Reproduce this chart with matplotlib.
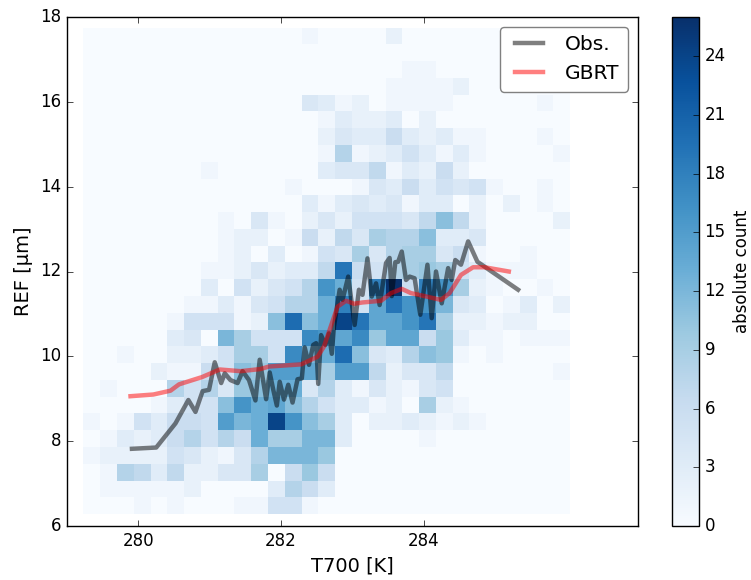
import numpy as np
import matplotlib
matplotlib.use('Agg')
import matplotlib.pyplot as plt

plt.style.use('classic')
plt.rcParams['font.family'] = ['DejaVu Sans']

# bin edges of the 2d histogram
t_min, t_max = 279.23, 286.05
ref_min, ref_max = 6.28, 17.75
n_bins = 29

# counts, first row is the top of the plot (highest REF)
row00 = [0,0,0,0,0,0,0,0,0,0,0,0,0,1,0,0,0,0,2,0,0,0,0,0,0,0,0,0,0]
row01 = [0,0,0,0,0,0,0,0,0,0,0,0,0,0,0,0,0,0,0,0,0,0,0,0,0,0,0,0,0]
row02 = [0,0,0,0,0,0,0,0,0,0,0,0,0,0,0,0,0,0,0,1,1,0,0,0,0,0,0,0,0]
row03 = [0,0,0,0,0,0,0,0,0,0,0,0,0,0,0,0,0,0,1,1,1,1,2,0,0,0,0,0,0]
row04 = [0,0,0,0,0,0,0,0,0,0,0,0,0,4,3,1,2,0,1,1,1,1,0,0,0,0,0,1,0]
row05 = [0,0,0,0,0,0,0,0,0,0,0,0,0,0,1,3,2,2,3,0,2,0,0,0,0,0,0,0,0]
row06 = [0,0,0,0,0,0,0,0,0,0,0,0,0,0,2,4,3,3,6,3,2,3,1,1,0,0,0,1,0]
row07 = [0,0,0,0,0,0,0,0,0,0,0,0,0,0,1,8,1,2,3,5,3,1,3,1,0,0,0,0,1]
row08 = [0,0,0,0,0,0,0,1,0,0,0,0,0,0,3,4,4,7,1,3,2,6,2,0,0,0,0,0,0]
row09 = [0,0,0,0,0,0,0,0,0,0,0,0,1,0,0,0,1,4,3,6,3,5,4,5,1,0,0,1,0]
row10 = [0,0,0,0,0,0,0,0,0,0,0,0,0,3,1,3,4,3,4,1,3,3,0,2,0,2,0,1,0]
row11 = [0,0,0,0,0,0,0,0,1,0,4,1,0,2,4,2,5,5,5,4,7,11,7,2,0,0,0,0,2]
row12 = [0,0,0,0,0,0,0,0,1,2,2,0,1,6,2,7,4,9,8,8,11,3,3,4,0,0,0,0,0]
row13 = [0,0,0,0,0,0,0,0,1,2,0,3,0,1,5,4,9,4,8,9,9,4,6,1,0,0,1,0,0]
row14 = [0,0,0,0,0,0,0,1,1,2,4,2,3,3,7,19,6,5,8,9,10,9,5,3,1,1,1,0,0]
row15 = [0,0,0,0,0,0,0,3,0,5,2,4,5,8,16,13,5,18,26,6,18,16,9,2,1,0,0,1,0]
row16 = [0,0,0,0,0,0,1,1,3,1,4,5,8,8,13,18,5,14,19,16,16,12,4,3,0,1,3,0,2]
row17 = [0,0,0,0,0,1,5,5,5,1,2,11,20,11,13,24,19,14,14,16,19,9,2,2,1,2,2,0,0]
row18 = [0,0,0,0,0,3,4,0,12,9,5,5,5,17,16,14,17,10,14,14,6,10,3,1,1,0,1,1,1]
row19 = [0,0,1,0,0,2,2,3,5,9,9,5,17,12,13,20,11,4,3,8,11,10,1,0,1,0,0,0,0]
row20 = [0,0,0,0,2,1,1,6,5,11,10,15,15,14,9,15,15,7,2,4,4,7,0,0,0,0,0,0,1]
row21 = [0,1,0,0,0,8,5,8,4,10,11,13,13,4,8,3,1,4,2,1,4,5,0,0,0,0,0,0,0]
row22 = [0,0,0,0,1,3,5,5,11,16,13,14,11,8,5,3,3,1,2,0,9,2,1,0,0,0,0,0,0]
row23 = [1,0,1,5,3,6,6,5,15,12,13,24,16,11,9,3,0,2,2,3,2,1,2,1,0,0,0,0,0]
row24 = [0,1,3,2,3,6,8,5,8,6,13,9,9,12,12,3,0,0,0,0,1,0,0,0,0,0,0,0,0]
row25 = [1,2,2,2,2,5,4,2,1,4,8,12,12,12,10,0,0,0,0,0,0,0,0,0,0,0,0,0,0]
row26 = [0,1,8,7,3,7,2,2,4,4,9,0,6,10,6,0,0,0,0,0,0,0,0,0,0,0,0,0,0]
row27 = [0,1,1,1,1,1,2,0,0,0,0,3,8,6,3,0,0,0,0,0,0,0,0,0,0,0,0,0,0]
row28 = [0,0,0,1,0,1,0,0,0,1,1,5,5,1,0,0,0,0,0,0,0,0,0,0,0,0,0,0,0]

counts = np.array([row00, row01, row02, row03, row04, row05, row06, row07, row08,
                   row09, row10, row11, row12, row13, row14, row15, row16, row17,
                   row18, row19, row20, row21, row22, row23, row24, row25, row26,
                   row27, row28])

obs_t = [279.91, 280.25, 280.52, 280.70, 280.80, 280.90, 280.99, 281.07, 281.16, 281.21,
         281.29, 281.39, 281.46, 281.55, 281.64, 281.70, 281.79, 281.84, 281.89, 281.94,
         281.98, 282.04, 282.10, 282.16, 282.23, 282.29, 282.33, 282.39, 282.45, 282.49,
         282.52, 282.56, 282.62, 282.67, 282.71, 282.74, 282.82, 282.86, 282.94, 283.03,
         283.09, 283.14, 283.21, 283.27, 283.33, 283.38, 283.47, 283.52, 283.55, 283.60,
         283.64, 283.69, 283.75, 283.80, 283.87, 283.95, 284.05, 284.11, 284.17, 284.25,
         284.34, 284.39, 284.44, 284.52, 284.62, 284.75, 285.32]
obs_ref = [7.82, 7.85, 8.42, 8.97, 8.69, 9.18, 9.21, 9.86, 9.37, 9.60,
           9.44, 9.37, 9.65, 9.44, 8.96, 9.92, 8.99, 9.62, 9.21, 8.84,
           9.40, 8.98, 9.33, 8.91, 9.46, 9.48, 10.21, 9.80, 10.27, 10.31,
           9.35, 10.50, 10.27, 10.54, 10.06, 10.70, 11.57, 11.33, 11.88, 10.74,
           11.57, 11.45, 12.31, 11.41, 11.72, 11.21, 12.20, 12.32, 11.42, 12.22,
           12.23, 12.47, 11.80, 11.88, 11.84, 10.98, 12.16, 10.90, 12.00, 11.25,
           12.08, 11.80, 12.27, 12.16, 12.71, 12.23, 11.57]

gbrt_t = [279.89, 280.21, 280.45, 280.57, 280.89, 281.14, 281.43, 281.71, 281.83, 282.28,
          282.51, 282.60, 282.79, 282.91, 283.02, 283.14, 283.40, 283.54, 283.69, 283.82,
          284.01, 284.24, 284.36, 284.52, 284.69, 284.85, 285.19]
gbrt_ref = [9.06, 9.10, 9.19, 9.34, 9.51, 9.69, 9.65, 9.70, 9.76, 9.81,
            9.99, 10.23, 11.17, 11.31, 11.24, 11.27, 11.31, 11.49, 11.59, 11.49,
            11.42, 11.33, 11.49, 11.92, 12.10, 12.10, 12.00]

x_ticks = [280, 282, 284]
x_tick_labels = ['280', '282', '284']
y_ticks = [6, 8, 10, 12, 14, 16, 18]
cbar_ticks = [0, 3, 6, 9, 12, 15, 18, 21, 24]

fig = plt.figure(figsize=(7.51, 5.8), dpi=100, facecolor='white')
ax = fig.add_axes([67/751, 1 - 526/580, 571/751, 509/580])
cax = fig.add_axes([672/751, 1 - 526/580, 27/751, 509/580])

x_edges = np.linspace(t_min, t_max, n_bins + 1)
y_edges = np.linspace(ref_max, ref_min, n_bins + 1)
mesh = ax.pcolormesh(x_edges, y_edges, counts, cmap='Blues', vmin=0, vmax=26)

ax.plot(obs_t, obs_ref, color='black', alpha=0.5, linewidth=3.2, label='Obs.')
ax.plot(gbrt_t, gbrt_ref, color='red', alpha=0.5, linewidth=3.2, label='GBRT')

ax.set_xlim(279, 287)
ax.set_ylim(6, 18)
ax.set_xticks(x_ticks)
ax.set_xticklabels(x_tick_labels)
ax.set_yticks(y_ticks)
ax.tick_params(labelsize=12)
ax.set_xlabel('T700 [K]', fontsize=14)
ax.set_ylabel('REF [µm]', fontsize=14)
leg = ax.legend(loc='upper right', fontsize=14.6, fancybox=True, framealpha=1)
leg.get_frame().set_edgecolor('0.5')

cbar = fig.colorbar(mesh, cax=cax, ticks=cbar_ticks)
cbar.ax.tick_params(labelsize=12)
cbar.set_label('absolute count', fontsize=12)

plt.savefig('out.png', dpi=100, facecolor='white')
